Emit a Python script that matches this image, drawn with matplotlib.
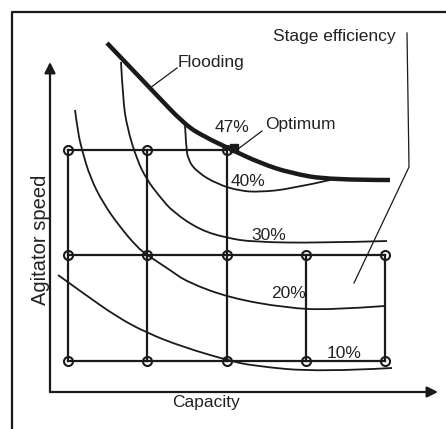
import matplotlib
matplotlib.use("Agg")
import matplotlib.pyplot as plt
from matplotlib import font_manager
from matplotlib.path import Path
from matplotlib.patches import PathPatch

names = {f.name for f in font_manager.fontManager.ttflist}
FONT = "Liberation Sans Narrow" if "Liberation Sans Narrow" in names else "Liberation Sans"

# ---- data (capacity, agitator speed) in arbitrary schematic units ----
grid_capacity = [18, 97, 177, 256, 335]
grid_speed = [242, 137, 31]

flood_cap = [57, 100, 135, 155, 180, 210, 240, 280, 340]
flood_spd = [349, 304, 267, 255, 243, 229, 219, 212, 212]

eff40_cap = [135, 136, 138, 147, 167, 190, 210, 240, 280]
eff40_spd = [267, 247, 232, 220, 208, 201, 200, 203, 212]

eff30_cap = [71, 73, 77, 87, 97, 110, 123, 150, 177, 203, 270, 337]
eff30_spd = [330, 292, 265, 232, 212, 195, 180, 162, 154, 150, 149, 151]

eff20_cap = [25, 28, 32, 40, 53, 70, 87, 97, 120, 137, 180, 237, 280, 335]
eff20_spd = [282, 259, 242, 215, 189, 165, 145, 137, 122, 110, 94, 84, 82, 86]

eff10_cap = [8, 33, 67, 97, 133, 177, 203, 270, 342]
eff10_spd = [117, 99, 75, 59, 45, 32, 26, 20, 24]

optimum = (184, 244)

eff_labels = ["47%", "40%", "30%", "20%", "10%"]
eff_label_pos = [(182, 265), (198, 211), (219, 157), (239, 98), (294, 39)]

fig = plt.figure(figsize=(4.46, 4.29), dpi=100)
ax = fig.add_axes([0, 0, 1, 1])
ax.set_xlim(-50, 396)
ax.set_ylim(-37, 392)
ax.axis("off")

K = "#1a1a1a"


def smooth(xs, ys, **kw):
    # quadratic Bezier through midpoints, using read points as control points
    pts = list(zip(xs, ys))
    verts = [pts[0]]
    codes = [Path.MOVETO]
    for i in range(1, len(pts) - 1):
        mid = ((pts[i][0] + pts[i + 1][0]) / 2, (pts[i][1] + pts[i + 1][1]) / 2)
        if i == len(pts) - 2:
            mid = pts[-1]
        verts += [pts[i], mid]
        codes += [Path.CURVE3, Path.CURVE3]
    if len(pts) == 2:
        verts.append(pts[1]); codes.append(Path.LINETO)
    ax.add_patch(PathPatch(Path(verts, codes), fill=False, capstyle="butt", **kw))


# outer frame
ax.plot([-38, -38, 396], [-37, 380, 380], color=K, lw=1.6, solid_capstyle="projecting")

# axes arrows
ax.annotate("", xy=(0, 330), xytext=(0, 0),
            arrowprops=dict(arrowstyle="-|>", color=K, lw=1.6, mutation_scale=16,
                            shrinkA=0, shrinkB=0))
ax.annotate("", xy=(388, 0), xytext=(0, 0),
            arrowprops=dict(arrowstyle="-|>", color=K, lw=1.6, mutation_scale=16,
                            shrinkA=0, shrinkB=0))

# grid lines
ax.plot([grid_capacity[0], grid_capacity[2]], [grid_speed[0]] * 2, color=K, lw=1.6)
for s in grid_speed[1:]:
    ax.plot([grid_capacity[0], grid_capacity[-1]], [s, s], color=K, lw=1.6)
for c in grid_capacity[:3]:
    ax.plot([c, c], [grid_speed[2], grid_speed[0]], color=K, lw=1.6)
for c in grid_capacity[3:]:
    ax.plot([c, c], [grid_speed[2], grid_speed[1]], color=K, lw=1.6)

# nodes
node_x = grid_capacity[:3] + grid_capacity * 2
node_y = [grid_speed[0]] * 3 + [grid_speed[1]] * 5 + [grid_speed[2]] * 5
ax.plot(node_x, node_y, "o", ms=6.5, mfc="none", mec=K, mew=1.5, zorder=5)

# efficiency curves
for cx, cy in [(eff40_cap, eff40_spd), (eff30_cap, eff30_spd),
               (eff20_cap, eff20_spd), (eff10_cap, eff10_spd)]:
    smooth(cx, cy, color=K, lw=1.3)

# flooding curve
smooth(flood_cap, flood_spd, color=K, lw=3.2, zorder=4)

# optimum marker
ax.plot(*optimum, "s", ms=5.5, color=K, zorder=6)

# leaders
ax.plot([100, 127], [304, 324], color=K, lw=0.9)
ax.plot([188, 212], [243, 261], color=K, lw=0.9)
ax.plot([357, 359, 304], [359, 225, 109], color=K, lw=0.9)

fs = 12.5
tk = dict(fontfamily=FONT, fontsize=fs, color="#222222")
ax.text(128, 330, "Flooding", ha="left", va="center", **tk)
ax.text(284, 355, "Stage efficiency", ha="center", va="center", **tk)
ax.text(215, 267, "Optimum", ha="left", va="center", **tk)
for lab, (x, y) in zip(eff_labels, eff_label_pos):
    ax.text(x, y, lab, ha="center", va="center", **tk)
ax.text(-10, 152, "Agitator speed", rotation=90, ha="center", va="center",
        fontfamily=FONT, fontsize=14.5, color="#222222")
ax.text(156, -11, "Capacity", ha="center", va="center", **tk)

fig.savefig("out.png", dpi=100)
